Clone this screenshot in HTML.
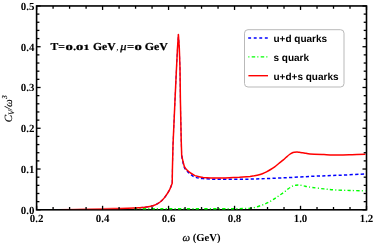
<!DOCTYPE html>
<html><head><meta charset="utf-8"><title>C_V/omega^3 vs omega</title>
<style>
html,body{margin:0;padding:0;background:#fff;}
body{width:374px;height:243px;overflow:hidden;}
svg{display:block;will-change:transform;opacity:0.999;}
text{font-family:"Liberation Serif",serif;text-rendering:geometricPrecision;}
.sans{font-family:"Liberation Sans",sans-serif;}
</style></head><body>
<svg width="374" height="243" viewBox="0 0 374 243">
<rect x="0" y="0" width="374" height="243" fill="#ffffff"/>
<defs>
<linearGradient id="gr" gradientUnits="userSpaceOnUse" x1="58" y1="0" x2="125" y2="0"><stop offset="0" stop-color="#ff0000" stop-opacity="0"/><stop offset="1" stop-color="#ff0000" stop-opacity="1"/></linearGradient>
<linearGradient id="gb" gradientUnits="userSpaceOnUse" x1="58" y1="0" x2="125" y2="0"><stop offset="0" stop-color="#0000ff" stop-opacity="0"/><stop offset="1" stop-color="#0000ff" stop-opacity="1"/></linearGradient>
<linearGradient id="gg" gradientUnits="userSpaceOnUse" x1="58" y1="0" x2="125" y2="0"><stop offset="0" stop-color="#00ff00" stop-opacity="0"/><stop offset="1" stop-color="#00ff00" stop-opacity="1"/></linearGradient>
</defs>
<rect x="36.60" y="5.95" width="329.90" height="203.85" fill="none" stroke="#000" stroke-width="1.6"/>
<g fill="none" stroke-linejoin="round">
<path d="M140.0,207.7 C140.78,207.58 142.53,207.57 144.7,207.2 C146.87,206.93 150.53,206.49 153.0,205.7 C155.47,204.91 157.58,203.85 159.5,202.5 C161.42,201.15 162.85,199.65 164.5,197.6 C166.15,195.55 168.12,192.60 169.4,190.2 C170.68,187.80 171.73,184.37 172.2,183.2" stroke="#0000ff" stroke-width="1.3" stroke-dasharray="3.2 2.3"/>
<path d="M172.2,183.2 L172.4,170.0 L173.0,145.0 L175.0,100.0 L176.5,68.0 L177.5,48.0 L178.4,34.5 L179.3,48.0 L180.0,68.0 L180.4,100.0 L181.2,140.0 L181.7,155.7" stroke="#0000ff" stroke-width="1.0" stroke-dasharray="3.2 2.3" stroke-linejoin="bevel"/>
<path d="M181.7,155.7 C182.12,157.58 183.23,164.35 184.2,167.0 C185.17,169.65 186.47,170.42 187.5,171.6 C188.53,172.78 189.15,173.18 190.4,174.1 C191.65,175.02 192.90,176.35 195.0,177.1 C197.10,177.85 198.83,178.23 203.0,178.6 C207.17,178.97 212.17,179.23 220.0,179.3 C227.83,179.38 240.00,179.27 250.0,179.1 C260.00,178.83 269.58,178.46 280.0,178.0 C290.42,177.54 302.50,176.77 312.5,176.3 C322.50,175.83 331.17,175.58 340.0,175.2 C348.83,174.82 361.25,174.20 365.5,174.0" stroke="#0000ff" stroke-width="1.5" stroke-dasharray="3.2 2.3"/>
<path d="M134.0,208.6 C135.83,208.62 140.67,208.68 145.0,208.7 C149.33,208.72 150.83,208.70 160.0,208.7 C169.17,208.70 187.33,208.70 200.0,208.7 C212.67,208.70 228.67,208.75 236.0,208.7 C243.33,208.65 241.45,208.48 244.0,208.4 C246.55,208.32 249.42,208.38 251.3,208.2 C253.18,208.02 253.93,207.67 255.3,207.3 C256.67,206.93 258.10,206.47 259.5,206.0 C260.90,205.53 262.32,205.05 263.7,204.5 C265.08,203.95 266.43,203.38 267.8,202.7 C269.17,202.02 270.53,201.23 271.9,200.4 C273.27,199.57 274.63,198.62 276.0,197.7 C277.37,196.78 278.72,195.85 280.1,194.9 C281.48,193.95 283.07,192.92 284.3,192.0 C285.53,191.08 286.42,190.22 287.5,189.4 C288.58,188.58 289.83,187.70 290.8,187.1 C291.77,186.50 292.47,186.12 293.3,185.8 C294.13,185.48 294.97,185.33 295.8,185.2 C296.63,185.07 297.48,185.00 298.3,185.0 C299.12,185.00 299.75,185.05 300.7,185.2 C301.65,185.35 302.90,185.65 304.0,185.9 C305.10,186.15 305.88,186.43 307.3,186.7 C308.72,186.97 309.72,187.13 312.5,187.5 C315.28,187.87 320.30,188.50 324.0,188.9 C327.70,189.30 330.37,189.63 334.7,189.9 C339.03,190.17 344.87,190.35 350.0,190.5 C355.13,190.65 362.92,190.75 365.5,190.8" stroke="#00ff00" stroke-width="1.4" stroke-dasharray="3.3 2.2 1.1 2.2"/>
<path d="M37.0,209.3 C40.83,209.25 52.83,209.07 60.0,209.0 C67.17,208.93 73.33,208.91 80.0,208.8 C86.67,208.79 94.50,208.71 100.0,208.7 C105.50,208.59 109.67,208.54 113.0,208.5 C116.33,208.46 116.50,208.49 120.0,208.4 C123.50,208.31 130.67,208.07 134.0,207.9 C137.33,207.82 138.22,207.77 140.0,207.7 C141.78,207.53 142.53,207.57 144.7,207.2 C146.87,206.93 150.53,206.49 153.0,205.7 C155.47,204.91 157.58,203.85 159.5,202.5 C161.42,201.15 162.85,199.65 164.5,197.6 C166.15,195.55 168.12,192.60 169.4,190.2 C170.68,187.80 171.73,184.37 172.2,183.2 L172.4,170.0 L173.0,145.0 L175.0,100.0 L176.5,68.0 L177.5,48.0 L178.4,34.5 L179.3,48.0 L180.0,68.0 L180.4,100.0 L181.2,140.0 L181.7,155.7 C182.15,157.50 183.43,164.03 184.4,166.5 C185.37,168.97 186.50,169.45 187.5,170.5 C188.50,171.55 189.15,171.96 190.4,172.8 C191.65,173.64 192.87,174.79 195.0,175.6 C197.13,176.31 199.08,176.95 203.2,177.4 C207.32,177.75 213.67,177.98 219.7,178.0 C225.73,177.92 234.35,177.40 239.4,177.2 C244.45,176.90 247.55,176.68 250.0,176.5 C252.45,176.22 252.73,175.97 254.1,175.8 C255.47,175.53 256.82,175.44 258.2,175.1 C259.58,174.76 261.02,174.25 262.4,173.7 C263.78,173.15 265.13,172.50 266.5,171.8 C267.87,171.10 269.23,170.33 270.6,169.5 C271.97,168.67 273.33,167.80 274.7,166.8 C276.07,165.80 277.42,164.60 278.8,163.5 C280.18,162.40 281.77,161.23 283.0,160.2 C284.23,159.17 285.12,158.25 286.2,157.3 C287.28,156.35 288.53,155.22 289.5,154.5 C290.47,153.78 291.17,153.37 292.0,153.0 C292.83,152.63 293.67,152.47 294.5,152.3 C295.33,152.13 296.18,152.00 297.0,152.0 C297.82,152.00 298.45,152.17 299.4,152.3 C300.35,152.43 301.60,152.63 302.7,152.8 C303.80,152.97 304.78,153.10 306.0,153.3 C307.22,153.50 307.00,153.78 310.0,154.0 C313.00,154.22 319.33,154.43 324.0,154.6 C328.67,154.77 333.33,154.98 338.0,155.0 C342.67,155.02 347.42,154.83 352.0,154.7 C356.58,154.57 363.25,154.28 365.5,154.2" stroke="url(#gr)" stroke-width="1.5" stroke-linejoin="round"/>
</g>
<g stroke="#000" stroke-width="1.3">
<line x1="36.60" y1="209.80" x2="36.60" y2="205.80"/>
<line x1="36.60" y1="5.95" x2="36.60" y2="9.95"/>
<line x1="53.09" y1="209.80" x2="53.09" y2="207.00"/>
<line x1="53.09" y1="5.95" x2="53.09" y2="8.75"/>
<line x1="69.59" y1="209.80" x2="69.59" y2="207.00"/>
<line x1="69.59" y1="5.95" x2="69.59" y2="8.75"/>
<line x1="86.09" y1="209.80" x2="86.09" y2="207.00"/>
<line x1="86.09" y1="5.95" x2="86.09" y2="8.75"/>
<line x1="102.58" y1="209.80" x2="102.58" y2="205.80"/>
<line x1="102.58" y1="5.95" x2="102.58" y2="9.95"/>
<line x1="119.07" y1="209.80" x2="119.07" y2="207.00"/>
<line x1="119.07" y1="5.95" x2="119.07" y2="8.75"/>
<line x1="135.57" y1="209.80" x2="135.57" y2="207.00"/>
<line x1="135.57" y1="5.95" x2="135.57" y2="8.75"/>
<line x1="152.06" y1="209.80" x2="152.06" y2="207.00"/>
<line x1="152.06" y1="5.95" x2="152.06" y2="8.75"/>
<line x1="168.56" y1="209.80" x2="168.56" y2="205.80"/>
<line x1="168.56" y1="5.95" x2="168.56" y2="9.95"/>
<line x1="185.05" y1="209.80" x2="185.05" y2="207.00"/>
<line x1="185.05" y1="5.95" x2="185.05" y2="8.75"/>
<line x1="201.55" y1="209.80" x2="201.55" y2="207.00"/>
<line x1="201.55" y1="5.95" x2="201.55" y2="8.75"/>
<line x1="218.04" y1="209.80" x2="218.04" y2="207.00"/>
<line x1="218.04" y1="5.95" x2="218.04" y2="8.75"/>
<line x1="234.54" y1="209.80" x2="234.54" y2="205.80"/>
<line x1="234.54" y1="5.95" x2="234.54" y2="9.95"/>
<line x1="251.04" y1="209.80" x2="251.04" y2="207.00"/>
<line x1="251.04" y1="5.95" x2="251.04" y2="8.75"/>
<line x1="267.53" y1="209.80" x2="267.53" y2="207.00"/>
<line x1="267.53" y1="5.95" x2="267.53" y2="8.75"/>
<line x1="284.02" y1="209.80" x2="284.02" y2="207.00"/>
<line x1="284.02" y1="5.95" x2="284.02" y2="8.75"/>
<line x1="300.52" y1="209.80" x2="300.52" y2="205.80"/>
<line x1="300.52" y1="5.95" x2="300.52" y2="9.95"/>
<line x1="317.02" y1="209.80" x2="317.02" y2="207.00"/>
<line x1="317.02" y1="5.95" x2="317.02" y2="8.75"/>
<line x1="333.51" y1="209.80" x2="333.51" y2="207.00"/>
<line x1="333.51" y1="5.95" x2="333.51" y2="8.75"/>
<line x1="350.01" y1="209.80" x2="350.01" y2="207.00"/>
<line x1="350.01" y1="5.95" x2="350.01" y2="8.75"/>
<line x1="366.50" y1="209.80" x2="366.50" y2="205.80"/>
<line x1="366.50" y1="5.95" x2="366.50" y2="9.95"/>
<line x1="36.60" y1="209.80" x2="40.60" y2="209.80"/>
<line x1="366.50" y1="209.80" x2="362.50" y2="209.80"/>
<line x1="36.60" y1="201.65" x2="39.40" y2="201.65"/>
<line x1="366.50" y1="201.65" x2="363.70" y2="201.65"/>
<line x1="36.60" y1="193.49" x2="39.40" y2="193.49"/>
<line x1="366.50" y1="193.49" x2="363.70" y2="193.49"/>
<line x1="36.60" y1="185.34" x2="39.40" y2="185.34"/>
<line x1="366.50" y1="185.34" x2="363.70" y2="185.34"/>
<line x1="36.60" y1="177.18" x2="39.40" y2="177.18"/>
<line x1="366.50" y1="177.18" x2="363.70" y2="177.18"/>
<line x1="36.60" y1="169.03" x2="40.60" y2="169.03"/>
<line x1="366.50" y1="169.03" x2="362.50" y2="169.03"/>
<line x1="36.60" y1="160.88" x2="39.40" y2="160.88"/>
<line x1="366.50" y1="160.88" x2="363.70" y2="160.88"/>
<line x1="36.60" y1="152.72" x2="39.40" y2="152.72"/>
<line x1="366.50" y1="152.72" x2="363.70" y2="152.72"/>
<line x1="36.60" y1="144.57" x2="39.40" y2="144.57"/>
<line x1="366.50" y1="144.57" x2="363.70" y2="144.57"/>
<line x1="36.60" y1="136.41" x2="39.40" y2="136.41"/>
<line x1="366.50" y1="136.41" x2="363.70" y2="136.41"/>
<line x1="36.60" y1="128.26" x2="40.60" y2="128.26"/>
<line x1="366.50" y1="128.26" x2="362.50" y2="128.26"/>
<line x1="36.60" y1="120.11" x2="39.40" y2="120.11"/>
<line x1="366.50" y1="120.11" x2="363.70" y2="120.11"/>
<line x1="36.60" y1="111.95" x2="39.40" y2="111.95"/>
<line x1="366.50" y1="111.95" x2="363.70" y2="111.95"/>
<line x1="36.60" y1="103.80" x2="39.40" y2="103.80"/>
<line x1="366.50" y1="103.80" x2="363.70" y2="103.80"/>
<line x1="36.60" y1="95.64" x2="39.40" y2="95.64"/>
<line x1="366.50" y1="95.64" x2="363.70" y2="95.64"/>
<line x1="36.60" y1="87.49" x2="40.60" y2="87.49"/>
<line x1="366.50" y1="87.49" x2="362.50" y2="87.49"/>
<line x1="36.60" y1="79.34" x2="39.40" y2="79.34"/>
<line x1="366.50" y1="79.34" x2="363.70" y2="79.34"/>
<line x1="36.60" y1="71.18" x2="39.40" y2="71.18"/>
<line x1="366.50" y1="71.18" x2="363.70" y2="71.18"/>
<line x1="36.60" y1="63.03" x2="39.40" y2="63.03"/>
<line x1="366.50" y1="63.03" x2="363.70" y2="63.03"/>
<line x1="36.60" y1="54.87" x2="39.40" y2="54.87"/>
<line x1="366.50" y1="54.87" x2="363.70" y2="54.87"/>
<line x1="36.60" y1="46.72" x2="40.60" y2="46.72"/>
<line x1="366.50" y1="46.72" x2="362.50" y2="46.72"/>
<line x1="36.60" y1="38.57" x2="39.40" y2="38.57"/>
<line x1="366.50" y1="38.57" x2="363.70" y2="38.57"/>
<line x1="36.60" y1="30.41" x2="39.40" y2="30.41"/>
<line x1="366.50" y1="30.41" x2="363.70" y2="30.41"/>
<line x1="36.60" y1="22.26" x2="39.40" y2="22.26"/>
<line x1="366.50" y1="22.26" x2="363.70" y2="22.26"/>
<line x1="36.60" y1="14.10" x2="39.40" y2="14.10"/>
<line x1="366.50" y1="14.10" x2="363.70" y2="14.10"/>
<line x1="36.60" y1="5.95" x2="40.60" y2="5.95"/>
<line x1="366.50" y1="5.95" x2="362.50" y2="5.95"/>
</g>
<g font-size="10.9" font-weight="bold" fill="#000">
<text x="36.6" y="222.2" text-anchor="middle">0.2</text>
<text x="102.6" y="222.2" text-anchor="middle">0.4</text>
<text x="168.6" y="222.2" text-anchor="middle">0.6</text>
<text x="234.5" y="222.2" text-anchor="middle">0.8</text>
<text x="300.5" y="222.2" text-anchor="middle">1.0</text>
<text x="366.5" y="222.2" text-anchor="middle">1.2</text>
<text x="34.4" y="213.6" text-anchor="end">0.0</text>
<text x="34.4" y="172.8" text-anchor="end">0.1</text>
<text x="34.4" y="132.1" text-anchor="end">0.2</text>
<text x="34.4" y="91.3" text-anchor="end">0.3</text>
<text x="34.4" y="50.5" text-anchor="end">0.4</text>
<text x="34.4" y="9.7" text-anchor="end">0.5</text>
</g>
<!-- in-plot annotation: T=0.01 GeV, mu=0 GeV (old-style numerals imitated by x-height digits) -->
<g font-size="10.7" font-weight="bold" fill="#000" stroke="#000" stroke-width="0.22">
<text x="50.6" y="49.5" textLength="14.4" lengthAdjust="spacingAndGlyphs">T=</text>
<text transform="translate(65.6,49.5) scale(1.85,1)" font-size="7.9">0</text>
<text transform="translate(73.3,49.5) scale(1.2,1)" font-size="9">.</text>
<text transform="translate(75.9,49.5) scale(1.85,1)" font-size="7.9">0</text>
<text transform="translate(83.6,49.5) scale(1.5,1)" font-size="7.9">1</text>
<text x="93.0" y="49.5" textLength="22.6" lengthAdjust="spacingAndGlyphs">GeV</text>
<text x="116.3" y="49.5" font-weight="normal" font-size="9" stroke="none">,</text>
<text x="120.2" y="49.5" font-weight="normal" font-style="italic" stroke="#000" stroke-width="0.3" textLength="6.2" lengthAdjust="spacingAndGlyphs">μ</text>
<text x="127.0" y="49.5" textLength="7.2" lengthAdjust="spacingAndGlyphs">=</text>
<text transform="translate(134.4,49.5) scale(1.85,1)" font-size="7.9">0</text>
<text x="144.7" y="49.5" textLength="23.2" lengthAdjust="spacingAndGlyphs">GeV</text>
</g>
<text x="201.5" y="240.6" font-size="10.7" font-weight="bold" text-anchor="middle"><tspan font-style="italic" font-weight="normal" stroke="#000" stroke-width="0.25">ω</tspan> (GeV)</text>
<text transform="translate(11.6,122.3) rotate(-90)" font-size="11" font-style="italic" stroke="#000" stroke-width="0.1">C<tspan font-size="8.2" dy="2.4">V</tspan><tspan dy="-2.4">/ω</tspan><tspan font-size="7.6" dy="-4.8">3</tspan></text>
<rect x="244.5" y="29.7" width="99.5" height="57.3" rx="3.5" ry="3.5" fill="#fff" stroke="#b9b9b9" stroke-width="1"/>
<line x1="248.2" y1="38.1" x2="268" y2="38.1" stroke="#0000ff" stroke-width="1.5" stroke-dasharray="2.9 2.65"/>
<line x1="248.3" y1="56.9" x2="267.6" y2="56.9" stroke="#00ff00" stroke-width="1.4" stroke-dasharray="1.1 2.3 3.5 2.1"/>
<line x1="248.4" y1="75.7" x2="268" y2="75.7" stroke="#ff0000" stroke-width="1.4"/>
<g font-size="10" font-weight="bold" fill="#000">
<text class="sans" x="273.5" y="41.7">u+d quarks</text>
<text class="sans" x="273.5" y="60.6">s quark</text>
<text class="sans" x="273.5" y="79.5">u+d+s quarks</text>
</g>
</svg>
</body></html>
